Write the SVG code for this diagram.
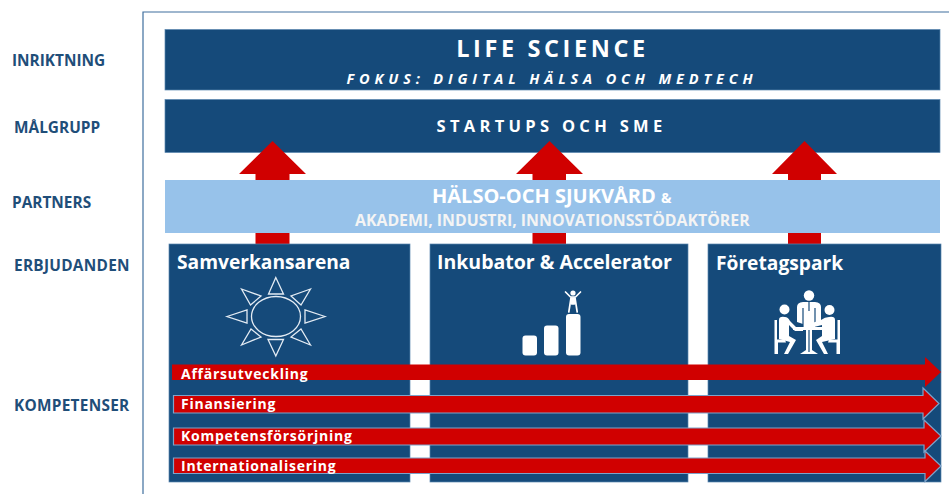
<svg xmlns="http://www.w3.org/2000/svg" width="949" height="494" viewBox="0 0 949 494">
<style>
text{font-family:"Open Sans","Liberation Sans",sans-serif;font-weight:700}
.lab{fill:#1f4e79;font-size:15.4px}
.w{fill:#fff}
.bar{fill:#154a7a;stroke:#5b86b0;stroke-width:.7}
.up{fill:#d00000}
.ar{fill:#d00000;stroke:#7da3ca;stroke-width:1.2}
.cap{fill:#fff;font-size:19.200px}
.ak{fill:#f4f4f4;font-size:15.850px}
.sun{fill:none;stroke:#e4ecf4;stroke-width:1.3}
.ic{fill:#fff}
.icl{fill:none;stroke:#fff;stroke-linecap:round;stroke-linejoin:round}
.icd{fill:none;stroke:#154a7a;stroke-width:1.200}
</style>
<rect width="949" height="494" fill="#fff"/>
<path d="M949 12H143V494" fill="none" stroke="#3f6f9e" stroke-width="1.2"/>
<g id="label-inriktning"><text class="lab" x="12" y="65.500">INRIKTNING</text></g>
<g id="label-malgrupp"><text class="lab" x="14" y="133">MÅLGRUPP</text></g>
<g id="label-partners"><text class="lab" x="12" y="207.500">PARTNERS</text></g>
<g id="label-erbjudanden"><text class="lab" x="14" y="270.500" letter-spacing=".27">ERBJUDANDEN</text></g>
<g id="label-kompetenser"><text class="lab" x="14" y="410.500" letter-spacing=".27">KOMPETENSER</text></g>
<g id="inriktning">
<rect class="bar" x="165" y="29.5" width="775" height="60.500"/>
<text class="w" x="552.500" y="57" text-anchor="middle" font-size="23.500" letter-spacing="3.600">LIFE SCIENCE</text>
<text class="w" x="552" y="84" text-anchor="middle" font-size="14.500" font-style="italic" letter-spacing="4.850">FOKUS: DIGITAL HÄLSA OCH MEDTECH</text>
</g>
<g id="malgrupp">
<rect class="bar" x="165" y="99.5" width="775" height="53"/>
<text class="w" x="551.500" y="132" text-anchor="middle" font-size="16.500" letter-spacing="4.300">STARTUPS OCH SME</text>
</g>
<g id="connectors-up">
<path class="up" d="M272.500 141L306 174H289.500V245H255.500V174H239Z"/>
<path class="up" d="M549.500 141L583 174H566V245H532.500V174H516Z"/>
<path class="up" d="M804.500 141L837 174H821V245H788V174H772Z"/>
</g>
<g id="partners">
<rect x="165" y="180" width="775" height="53" fill="#97c2ea"/>
<text class="w" x="432" y="203" font-size="20">HÄLSO-OCH SJUKVÅRD <tspan font-size="14">&amp;</tspan></text>
<text class="ak" x="355" y="226">AKADEMI, INDUSTRI, INNOVATIONSSTÖDAKTÖRER</text>
</g>
<g id="samverkansarena">
<rect class="bar" x="169" y="244" width="241" height="238"/>
<text class="cap" x="177" y="269">Samverkansarena</text>
<g class="sun">
<ellipse cx="276" cy="316.500" rx="24.500" ry="20"/>
<path d="M275.800 277.500L268.500 294H283.500Z"/>
<path d="M241.500 289L261 296L250.500 305Z"/>
<path d="M310.500 289L291 296L301 305Z"/>
<path d="M227 316.500L247 310V323Z"/>
<path d="M325 316.500L305 310V323Z"/>
<path d="M241.500 345L251 329L261 337Z"/>
<path d="M310.500 345L301 329L291 337Z"/>
<path d="M275.800 356L268 339.500H283.500Z"/>
</g>
</g>
<g id="inkubator">
<rect class="bar" x="430" y="244" width="258" height="238"/>
<text class="cap" x="437" y="269" style="font-size:19.500px">Inkubator &amp; Accelerator</text>
<g class="ic">
<rect x="522.500" y="335.500" width="14.500" height="20" rx="3"/>
<rect x="544" y="325.500" width="14.500" height="30" rx="3"/>
<rect x="566" y="314" width="14.500" height="41.500" rx="3"/>
<circle cx="573" cy="293" r="2.600"/>
</g>
<g class="icl">
<path d="M565.500 292L570.500 297H575.500L580.500 292" stroke-width="1.700"/>
<path d="M571 298L568.800 312M575 298L577.200 312" stroke-width="1.700"/>
<path d="M571.500 298H574.500V304H571.500Z" fill="#fff" stroke-width="1.300"/>
</g>
</g>
<g id="foretagspark">
<rect class="bar" x="708" y="244" width="233" height="238"/>
<text class="cap" x="716" y="270">Företagspark</text>
<g class="ic">
<circle cx="809" cy="295.500" r="5.200"/>
<path d="M797 307Q797 302.500 803 302H815Q821 302.500 821 307V322L815 324V327H803V324L797 322Z"/>
<path class="icd" d="M809 302V311M803 308V327M815 308V324"/>
<circle cx="784.500" cy="309.500" r="5"/>
<circle cx="829.500" cy="310" r="5"/>
<path d="M779 320Q779 316 785 317Q788 317 790 321L796 327H803V331H795L789 325V336L796 340L788 354H784L790 342L779 339Z"/>
<path d="M835 320Q835 316 829 317Q825 317 821 320L812 323L814 327L822 325V336L816 340L824 354H828L822 342L835 339Z"/>
<path d="M793 327H823V330H812V350L818 354H800L806 350V330H793Z"/>
<path d="M774.500 320H777V339.500H785L786 342.500H778V354H774.500Z"/>
<path d="M840 320H837.500V339.500H829L828 342.500H836.500V354H840Z"/>
<path class="icd" d="M809 330V352"/>
</g>
</g>
<g id="connectors-right">
<path d="M172 364.500H925V357L941 372L925 387V380H172Z" fill="#d00000"/>
<path class="ar" d="M173.500 395.500H923V388L939 403.500L923 419V413H173.500Z"/>
<path class="ar" d="M173.500 428H924V420L941 436L924 452V445H173.500Z"/>
<path class="ar" d="M173.500 458H925V451L941 466L925 481.500V473.500H173.500Z"/>
</g>
<g id="komp-labels" class="w" font-size="14" letter-spacing=".75">
<text x="181" y="379">Affärsutveckling</text>
<text x="181" y="409">Finansiering</text>
<text x="181" y="441">Kompetensförsörjning</text>
<text x="181" y="471">Internationalisering</text>
</g>
</svg>
